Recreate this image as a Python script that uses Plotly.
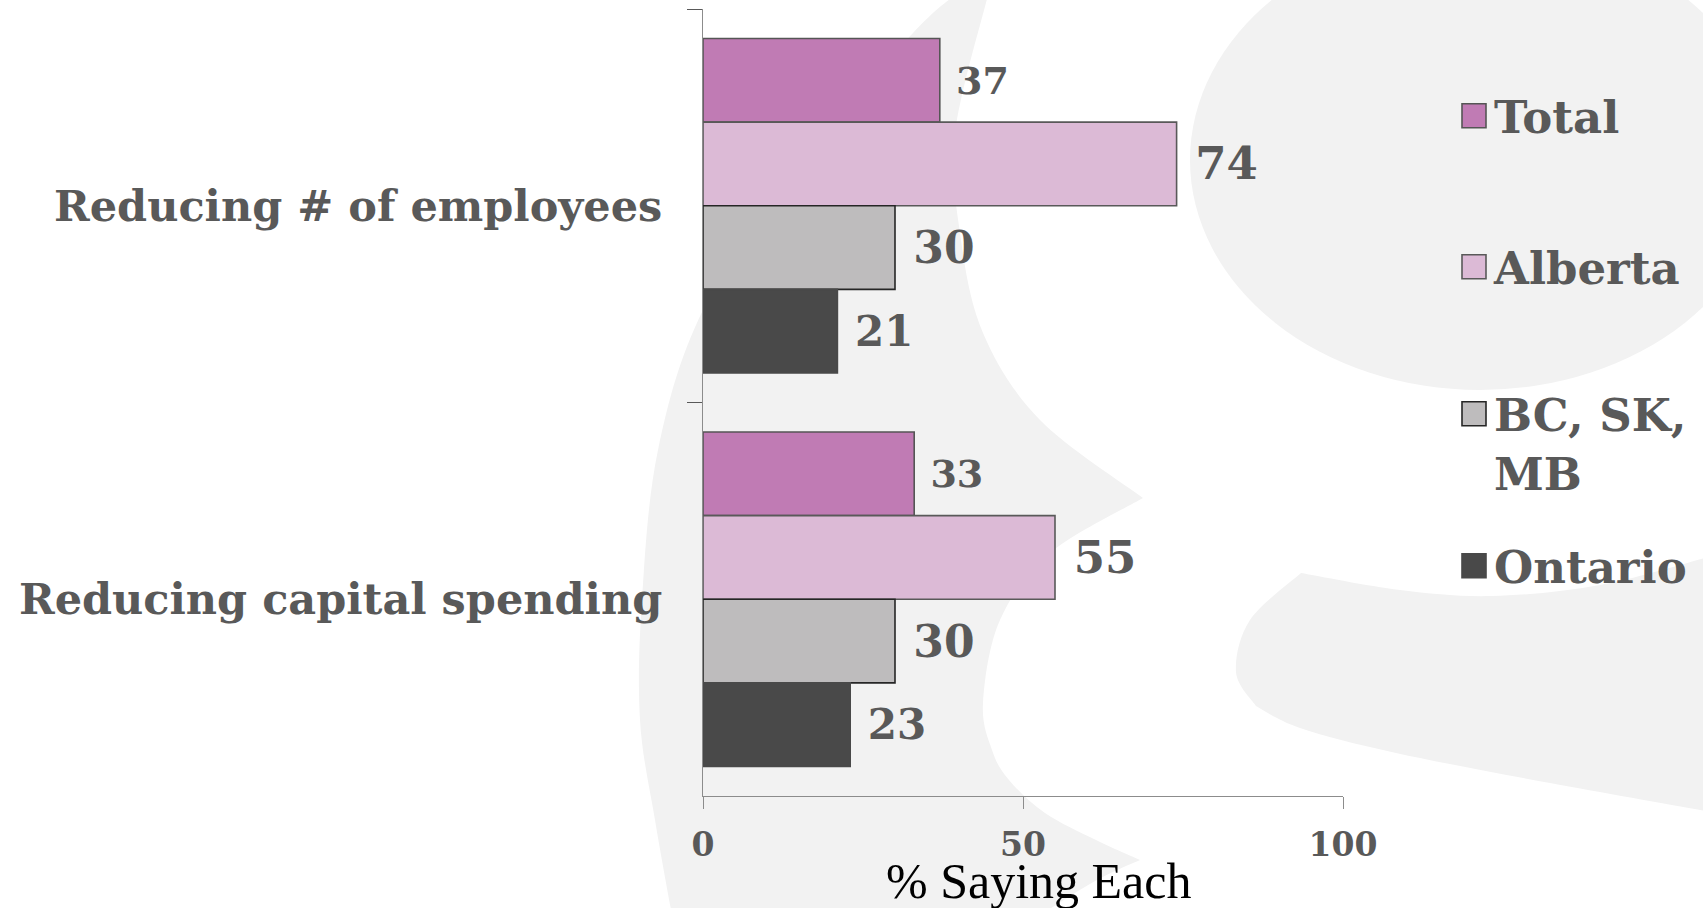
import plotly.graph_objects as go

# ---- data -------------------------------------------------------------
categories = ["Reducing # of employees", "Reducing capital spending"]
series_names = ["Total", "Alberta", "BC, SK, MB", "Ontario"]
legend_labels = ["Total", "Alberta", "BC, SK,<br>MB", "Ontario"]
total = [37, 33]
alberta = [74, 55]
bc_sk_mb = [30, 30]
ontario = [21, 23]
x_tick_values = [0, 50, 100]
x_title = "% Saying Each"

# ---- styling ----------------------------------------------------------
W, H = 1703, 908
SERIF = "DejaVu Serif, Georgia, serif"
GREY_TEXT = "#595959"
BACKDROP = "#F2F2F2"

fills = ["#C07BB4", "#DCBAD6", "#BEBCBD", "#494949"]
edges = ["#555555", "#595959", "#262626", "#494949"]
label_sizes = [38, 45, 44, 42]
legend_ids = ["legend", "legend2", "legend3", "legend4"]
legend_centres_px = [116, 267, 443, 566]   # vertical centre of each legend box


def px_to_paper(pt):
    return f"{pt[0] / W:.5f},{1 - pt[1] / H:.5f}"


def spline(pts):
    """Catmull-Rom curve through pts, written as cubic Bezier commands."""
    out = []
    for i in range(len(pts) - 1):
        p0 = pts[i - 1] if i > 0 else pts[i]
        p1, p2 = pts[i], pts[i + 1]
        p3 = pts[i + 2] if i + 2 < len(pts) else p2
        c1 = (p1[0] + (p2[0] - p0[0]) / 6, p1[1] + (p2[1] - p0[1]) / 6)
        c2 = (p2[0] - (p3[0] - p1[0]) / 6, p2[1] - (p3[1] - p1[1]) / 6)
        out.append("C" + " ".join(px_to_paper(q) for q in (c1, c2, p2)))
    return " ".join(out)


def closed_path(pieces):
    """Join several smooth pieces (each starting where the last ended)."""
    d = "M" + px_to_paper(pieces[0][0])
    for piece in pieces:
        d += " L" + px_to_paper(piece[0]) + " " + spline(piece)
    return d + " Z"


# decorative backdrop swooshes (pixel outlines)
crescent = closed_path([
    [(672, 915), (655, 820), (640, 720), (642, 600), (658, 450), (703, 310),
     (800, 160), (913, 33), (955, -5)],
    [(988, -5), (955, 133), (960, 233), (983, 333), (1040, 420), (1143, 498)],
    [(1143, 498), (1050, 553), (1000, 620), (983, 703), (992, 750), (1009, 780),
     (1045, 813), (1096, 840), (1140, 860)],
    [(1140, 860), (1097, 880), (1040, 915)],
])
lower_band = closed_path([
    [(1301, 573), (1400, 590), (1492, 596), (1600, 585), (1712, 556)],
    [(1712, 812), (1550, 783), (1396, 753), (1300, 728), (1256, 706)],
    [(1256, 706), (1236, 672), (1250, 620), (1301, 573)],
])

shapes = [
    dict(type="path", path=crescent, xref="paper", yref="paper",
         fillcolor=BACKDROP, line=dict(width=0), layer="below"),
    dict(type="circle", xref="paper", yref="paper",
         x0=1190 / W, x1=1770 / W, y0=1 - 390 / H, y1=1 + 70 / H,
         fillcolor=BACKDROP, line=dict(width=0), layer="below"),
    dict(type="path", path=lower_band, xref="paper", yref="paper",
         fillcolor=BACKDROP, line=dict(width=0), layer="below"),
]

# ---- figure -----------------------------------------------------------
fig = go.Figure()
for i, values in enumerate([total, alberta, bc_sk_mb, ontario]):
    fig.add_trace(go.Bar(
        name=legend_labels[i],
        y=categories,
        x=values,
        orientation="h",
        marker=dict(color=fills[i], line=dict(color=edges[i], width=1.6)),
        text=values,
        texttemplate="\u00a0%{x}",
        textposition="outside",
        textfont=dict(family=SERIF, size=label_sizes[i], color=GREY_TEXT,
                      weight="bold"),
        constraintext="none",
        cliponaxis=False,
        legend=legend_ids[i],
        hovertemplate=series_names[i] + ": %{x}<extra></extra>",
    ))

legend_common = dict(
    x=1454 / W, xanchor="left", yanchor="middle",
    bgcolor="rgba(0,0,0,0)", borderwidth=0, valign="top",
    font=dict(family=SERIF, size=45, color=GREY_TEXT, weight="bold"),
    itemclick=False, itemdoubleclick=False,
)
legend_layout = {
    lid: dict(legend_common, y=1 - yc / H)
    for lid, yc in zip(legend_ids, legend_centres_px)
}

fig.update_layout(
    width=W, height=H,
    margin=dict(l=0, r=0, t=0, b=0, autoexpand=False),
    paper_bgcolor="white",
    plot_bgcolor="rgba(0,0,0,0)",
    barmode="group",
    bargap=0.15,
    bargroupgap=0,
    showlegend=True,
    shapes=shapes,
    **legend_layout,
    xaxis=dict(
        domain=[703 / W, 1343 / W],
        range=[0, 100],
        tickvals=x_tick_values,
        ticks="outside", ticklen=12, tickcolor="#8C8C8C", tickwidth=1,
        showline=True, linecolor="#8C8C8C", linewidth=1.3,
        showgrid=False, zeroline=False, automargin=False,
        tickfont=dict(family=SERIF, size=33, color=GREY_TEXT, weight="bold"),
        ticklabelstandoff=7,
    ),
    yaxis=dict(
        domain=[1 - 796 / H, 1 - 9 / H],
        autorange="reversed",
        type="category",
        tickson="boundaries",
        ticks="outside", ticklen=15, tickcolor="#595959", tickwidth=1,
        showline=True, linecolor="#8C8C8C", linewidth=1.3,
        showgrid=False, zeroline=False, automargin=False,
        tickfont=dict(family=SERIF, size=43, color=GREY_TEXT, weight="bold"),
        ticklabelstandoff=31,
    ),
    annotations=[dict(
        text=x_title, xref="paper", yref="paper",
        x=1038 / W, y=1 - 881 / H, xanchor="center", yanchor="middle",
        showarrow=False,
        font=dict(family="Liberation Serif, Times New Roman, serif", size=50,
                  color="black"),
    )],
)

# enlarge the legend swatches to match the label size
enlarge_swatches = """
var gd = document.getElementById('{plot_id}');
gd.querySelectorAll('.legendpoints path').forEach(function (p) {
  var t = p.getAttribute('transform') || '';
  p.setAttribute('transform', t + ' scale(2)');
  p.style.vectorEffect = 'non-scaling-stroke';
});
"""

fig.write_html("out.html", post_script=enlarge_swatches)
